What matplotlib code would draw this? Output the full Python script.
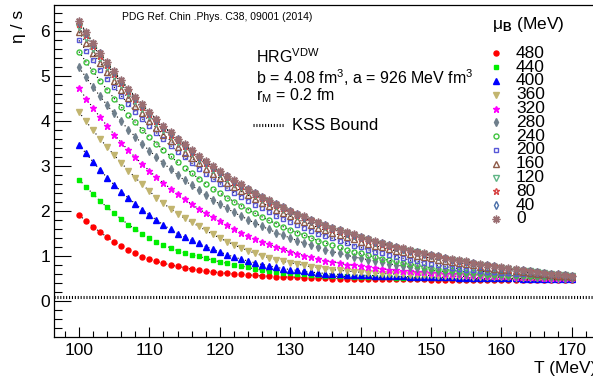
import matplotlib
matplotlib.use('Agg')
import matplotlib.pyplot as plt
from matplotlib.ticker import MultipleLocator
from matplotlib.lines import Line2D

plt.rcParams['font.family'] = ['Liberation Sans', 'DejaVu Sans']
plt.rcParams['mathtext.fontset'] = 'custom'
plt.rcParams['mathtext.rm'] = 'Liberation Sans'
plt.rcParams['mathtext.it'] = 'Liberation Sans:italic'
plt.rcParams['mathtext.bf'] = 'Liberation Sans:bold'

# temperature grid (MeV)
T = list(range(100, 171))

# eta/s for each mu_B (MeV)
eta_480 = [1.91, 1.78, 1.65, 1.53, 1.42, 1.32, 1.22, 1.13, 1.06, 0.98,
           0.93, 0.88, 0.84, 0.80, 0.77, 0.74, 0.71, 0.69, 0.67, 0.65,
           0.63, 0.615, 0.60, 0.59, 0.58, 0.57, 0.56, 0.55, 0.54, 0.535,
           0.53, 0.525, 0.52, 0.515, 0.51, 0.505, 0.50, 0.50, 0.495, 0.495,
           0.49, 0.49, 0.49, 0.485, 0.485, 0.485, 0.48, 0.48, 0.48, 0.48,
           0.475, 0.475, 0.475, 0.475, 0.475, 0.47, 0.47, 0.47, 0.47, 0.47,
           0.47, 0.47, 0.47, 0.47, 0.47, 0.47, 0.47, 0.47, 0.47, 0.47,
           0.47]
eta_440 = [2.70, 2.53, 2.38, 2.22, 2.08, 1.95, 1.82, 1.70, 1.59, 1.49,
           1.40, 1.32, 1.25, 1.18, 1.12, 1.07, 1.03, 0.99, 0.95, 0.91,
           0.87, 0.84, 0.81, 0.78, 0.745, 0.715, 0.685, 0.665, 0.645, 0.63,
           0.615, 0.60, 0.59, 0.58, 0.57, 0.56, 0.555, 0.55, 0.545, 0.54,
           0.535, 0.53, 0.53, 0.525, 0.525, 0.52, 0.52, 0.515, 0.515, 0.51,
           0.51, 0.51, 0.505, 0.505, 0.50, 0.50, 0.50, 0.495, 0.495, 0.49,
           0.49, 0.49, 0.49, 0.485, 0.485, 0.485, 0.48, 0.48, 0.48, 0.48,
           0.48]
eta_400 = [3.47, 3.28, 3.09, 2.91, 2.74, 2.58, 2.43, 2.29, 2.16, 2.03,
           1.91, 1.80, 1.69, 1.59, 1.50, 1.42, 1.35, 1.28, 1.21, 1.15,
           1.09, 1.03, 0.98, 0.93, 0.89, 0.85, 0.81, 0.78, 0.75, 0.72,
           0.70, 0.68, 0.66, 0.64, 0.63, 0.61, 0.60, 0.59, 0.585, 0.58,
           0.575, 0.57, 0.565, 0.56, 0.555, 0.55, 0.545, 0.54, 0.535, 0.535,
           0.53, 0.53, 0.525, 0.525, 0.52, 0.52, 0.515, 0.515, 0.51, 0.51,
           0.51, 0.505, 0.505, 0.50, 0.50, 0.50, 0.495, 0.495, 0.49, 0.49,
           0.49]
eta_360 = [4.20, 3.99, 3.79, 3.60, 3.42, 3.24, 3.07, 2.90, 2.74, 2.59,
           2.44, 2.30, 2.17, 2.05, 1.94, 1.84, 1.75, 1.66, 1.57, 1.48,
           1.40, 1.32, 1.25, 1.18, 1.12, 1.06, 1.01, 0.96, 0.92, 0.88,
           0.85, 0.82, 0.79, 0.76, 0.74, 0.72, 0.70, 0.68, 0.67, 0.65,
           0.64, 0.63, 0.62, 0.61, 0.605, 0.60, 0.59, 0.585, 0.58, 0.575,
           0.57, 0.565, 0.56, 0.555, 0.55, 0.545, 0.54, 0.535, 0.535, 0.53,
           0.53, 0.525, 0.52, 0.515, 0.51, 0.51, 0.505, 0.50, 0.50, 0.495,
           0.495]
eta_320 = [4.73, 4.50, 4.29, 4.08, 3.89, 3.70, 3.52, 3.35, 3.19, 3.04,
           2.89, 2.75, 2.62, 2.50, 2.38, 2.26, 2.15, 2.05, 1.95, 1.86,
           1.77, 1.68, 1.60, 1.52, 1.45, 1.38, 1.32, 1.26, 1.20, 1.15,
           1.10, 1.05, 1.01, 0.97, 0.93, 0.90, 0.87, 0.84, 0.81, 0.79,
           0.77, 0.75, 0.73, 0.71, 0.70, 0.68, 0.67, 0.66, 0.65, 0.64,
           0.63, 0.62, 0.61, 0.60, 0.59, 0.58, 0.575, 0.57, 0.56, 0.555,
           0.55, 0.545, 0.54, 0.535, 0.53, 0.525, 0.52, 0.515, 0.51, 0.51,
           0.505]
eta_280 = [5.19, 4.97, 4.75, 4.55, 4.35, 4.17, 3.99, 3.81, 3.65, 3.49,
           3.34, 3.20, 3.06, 2.93, 2.80, 2.68, 2.57, 2.46, 2.35, 2.25,
           2.15, 2.06, 1.97, 1.89, 1.81, 1.73, 1.66, 1.59, 1.52, 1.46,
           1.40, 1.34, 1.29, 1.24, 1.19, 1.14, 1.10, 1.06, 1.02, 0.98,
           0.95, 0.92, 0.89, 0.86, 0.83, 0.80, 0.775, 0.75, 0.725, 0.70,
           0.68, 0.665, 0.65, 0.635, 0.62, 0.61, 0.60, 0.59, 0.585, 0.575,
           0.57, 0.565, 0.56, 0.55, 0.545, 0.54, 0.535, 0.53, 0.525, 0.52,
           0.515]
eta_240 = [5.54, 5.31, 5.10, 4.89, 4.69, 4.50, 4.31, 4.14, 3.97, 3.80,
           3.65, 3.50, 3.35, 3.22, 3.08, 2.96, 2.84, 2.72, 2.61, 2.50,
           2.40, 2.30, 2.21, 2.12, 2.03, 1.95, 1.87, 1.79, 1.72, 1.65,
           1.58, 1.52, 1.46, 1.40, 1.34, 1.29, 1.24, 1.19, 1.14, 1.10,
           1.06, 1.02, 0.98, 0.94, 0.91, 0.88, 0.85, 0.82, 0.79, 0.765,
           0.74, 0.72, 0.70, 0.68, 0.665, 0.65, 0.635, 0.625, 0.61, 0.60,
           0.59, 0.58, 0.575, 0.57, 0.56, 0.555, 0.55, 0.545, 0.54, 0.53,
           0.525]
eta_200 = [5.79, 5.56, 5.35, 5.14, 4.94, 4.75, 4.56, 4.38, 4.21, 4.05,
           3.89, 3.74, 3.59, 3.45, 3.32, 3.19, 3.06, 2.94, 2.83, 2.72,
           2.61, 2.51, 2.41, 2.32, 2.23, 2.14, 2.06, 1.98, 1.90, 1.83,
           1.76, 1.69, 1.62, 1.56, 1.50, 1.44, 1.39, 1.33, 1.28, 1.23,
           1.19, 1.14, 1.10, 1.06, 1.02, 0.98, 0.95, 0.91, 0.88, 0.85,
           0.82, 0.79, 0.77, 0.74, 0.72, 0.70, 0.68, 0.66, 0.65, 0.64,
           0.63, 0.62, 0.61, 0.60, 0.59, 0.58, 0.57, 0.56, 0.55, 0.54,
           0.535]
eta_160 = [5.97, 5.74, 5.50, 5.29, 5.08, 4.88, 4.69, 4.51, 4.33, 4.17,
           4.00, 3.85, 3.70, 3.56, 3.43, 3.30, 3.18, 3.06, 2.94, 2.83,
           2.73, 2.63, 2.53, 2.44, 2.35, 2.27, 2.18, 2.11, 2.03, 1.96,
           1.88, 1.81, 1.76, 1.69, 1.63, 1.57, 1.51, 1.47, 1.42, 1.37,
           1.32, 1.27, 1.23, 1.19, 1.15, 1.11, 1.08, 1.04, 1.01, 0.98,
           0.95, 0.92, 0.89, 0.86, 0.84, 0.82, 0.79, 0.76, 0.74, 0.72,
           0.70, 0.68, 0.66, 0.65, 0.63, 0.61, 0.60, 0.58, 0.56, 0.555,
           0.54]
eta_120 = [6.08, 5.85, 5.61, 5.40, 5.19, 4.99, 4.80, 4.62, 4.44, 4.27,
           4.11, 3.95, 3.80, 3.67, 3.53, 3.40, 3.28, 3.16, 3.04, 2.92,
           2.83, 2.72, 2.62, 2.53, 2.44, 2.36, 2.27, 2.19, 2.11, 2.04,
           1.97, 1.90, 1.84, 1.77, 1.71, 1.65, 1.59, 1.55, 1.50, 1.45,
           1.40, 1.35, 1.30, 1.26, 1.22, 1.18, 1.14, 1.11, 1.08, 1.04,
           1.01, 0.98, 0.94, 0.91, 0.89, 0.86, 0.83, 0.80, 0.78, 0.76,
           0.73, 0.71, 0.69, 0.67, 0.66, 0.64, 0.62, 0.60, 0.58, 0.57,
           0.55]
eta_80 = [6.15, 5.91, 5.67, 5.45, 5.25, 5.04, 4.85, 4.66, 4.49, 4.32,
          4.15, 3.99, 3.84, 3.70, 3.57, 3.44, 3.31, 3.19, 3.07, 2.95,
          2.86, 2.75, 2.65, 2.56, 2.46, 2.38, 2.29, 2.21, 2.13, 2.06,
          1.99, 1.92, 1.86, 1.79, 1.73, 1.67, 1.61, 1.56, 1.51, 1.46,
          1.41, 1.36, 1.31, 1.27, 1.23, 1.20, 1.16, 1.12, 1.09, 1.05,
          1.02, 0.99, 0.95, 0.92, 0.90, 0.87, 0.84, 0.81, 0.79, 0.77,
          0.74, 0.72, 0.70, 0.68, 0.66, 0.64, 0.62, 0.60, 0.58, 0.57,
          0.55]
eta_40 = [6.20, 5.96, 5.72, 5.50, 5.29, 5.08, 4.89, 4.70, 4.52, 4.35,
          4.18, 4.02, 3.87, 3.73, 3.59, 3.46, 3.33, 3.21, 3.09, 2.98,
          2.87, 2.77, 2.67, 2.57, 2.48, 2.39, 2.31, 2.23, 2.15, 2.08,
          2.00, 1.93, 1.87, 1.80, 1.74, 1.68, 1.62, 1.57, 1.52, 1.47,
          1.42, 1.37, 1.32, 1.28, 1.24, 1.20, 1.16, 1.12, 1.09, 1.05,
          1.02, 0.99, 0.95, 0.92, 0.90, 0.87, 0.84, 0.81, 0.79, 0.77,
          0.74, 0.72, 0.70, 0.68, 0.66, 0.64, 0.62, 0.60, 0.59, 0.57,
          0.555]
eta_0 = [6.22, 5.98, 5.74, 5.52, 5.31, 5.10, 4.91, 4.72, 4.54, 4.37,
         4.20, 4.04, 3.89, 3.75, 3.61, 3.48, 3.35, 3.23, 3.11, 2.99,
         2.89, 2.78, 2.68, 2.59, 2.49, 2.41, 2.32, 2.24, 2.16, 2.09,
         2.01, 1.94, 1.88, 1.81, 1.75, 1.69, 1.63, 1.58, 1.53, 1.48,
         1.43, 1.38, 1.33, 1.29, 1.25, 1.21, 1.17, 1.13, 1.10, 1.06,
         1.03, 1.00, 0.96, 0.93, 0.91, 0.88, 0.85, 0.82, 0.80, 0.78,
         0.75, 0.73, 0.71, 0.69, 0.67, 0.65, 0.63, 0.61, 0.59, 0.58,
         0.56]

mu_labels = ['480', '440', '400', '360', '320', '280', '240',
             '200', '160', '120', '80', '40', '0']
kss = 0.08  # 1/(4 pi)

series = [eta_480, eta_440, eta_400, eta_360, eta_320, eta_280, eta_240,
          eta_200, eta_160, eta_120, eta_80, eta_40, eta_0]
colors = ['#ff0000', '#00ee00', '#0000ff', '#c2b56f', '#ff00ff', '#6f7f8c',
          '#3fc43f', '#5858d8', '#8e5a48', '#5fb585', '#d84848', '#4a6ea8',
          '#9a6e72']
markers = ['o', 's', '^', 'v', '*', 'd', 'o', 's', '^', 'v', '*', 'd', (8, 2, 0)]
filled = [True] * 6 + [False] * 7
sizes = [3.6, 3.4, 3.8, 3.8, 4.8, 4.0, 3.6, 3.4, 4.0, 4.0, 5.0, 4.2, 5.6]

fig = plt.figure(figsize=(5.93, 3.79), dpi=100)
ax = fig.add_axes([54.3 / 593, 1 - 336.7 / 379, (600 - 54.3) / 593, (336.7 - 5.3) / 379])
ax.set_xlim(96.49, 174.0)
ax.set_ylim(-0.793, 6.571)
ax.spines['right'].set_visible(False)
for s in ['left', 'bottom', 'top']:
    ax.spines[s].set_linewidth(0.9)

ax.axhline(kss, color='k', lw=2.2, ls=(0, (0.35, 0.6)), zorder=1)

for y, c, m, full, ms in zip(series, colors, markers, filled, sizes):
    ax.plot(T, y, color='k', lw=0.8, ls=(0, (1, 2.5)), zorder=2)
    ax.plot(T, y, ls='none', marker=m, ms=ms, mfc=c if full else 'none',
            mec=c, mew=1.0, zorder=3)

ax.xaxis.set_major_locator(MultipleLocator(10))
ax.xaxis.set_minor_locator(MultipleLocator(2))
ax.yaxis.set_major_locator(MultipleLocator(1))
ax.yaxis.set_minor_locator(MultipleLocator(0.2))
ax.tick_params(axis='x', which='major', direction='in', length=7.5, width=0.8,
               labelsize=12.5, pad=4.5, top=False)
ax.tick_params(axis='x', which='minor', direction='in', length=4, width=0.8, top=False)
ax.tick_params(axis='y', which='major', direction='in', length=12, width=0.8,
               labelsize=12.5, pad=3, right=False)
ax.tick_params(axis='y', which='minor', direction='in', length=6, width=0.8, right=False)

fig.text(18 / 593, 1 - 10 / 379, 'η / s', rotation=90, ha='center', va='top', fontsize=12.5)
# the reference cuts this label at the right edge
fig.text(534 / 593, 1 - 368 / 379, 'T (MeV)', ha='left', va='center', fontsize=12.5)

fig.text(122 / 593, 1 - 17 / 379, 'PDG Ref. Chin .Phys. C38, 09001 (2014)',
         ha='left', va='center', fontsize=7.5)
fig.text(256 / 593, 1 - 57 / 379, r'HRG$^{\rm VDW}$', ha='left', va='center', fontsize=11.5)
fig.text(256 / 593, 1 - 78 / 379, r'b = 4.08 fm$^{3}$, a = 926 MeV fm$^{3}$',
         ha='left', va='center', fontsize=11.5)
fig.text(256 / 593, 1 - 96 / 379, r'r$_{\rm M}$ = 0.2 fm', ha='left', va='center', fontsize=11.5)
fig.add_artist(Line2D([253 / 593, 284 / 593], [1 - 125 / 379, 1 - 125 / 379],
                      transform=fig.transFigure, color='k', lw=2.2, ls=(0, (0.35, 0.6))))
fig.text(292 / 593, 1 - 125 / 379, 'KSS Bound', ha='left', va='center', fontsize=12)

# legend drawn by hand
fig.text(492 / 593, 1 - 25 / 379, r'μ$_{\mathbf{B}}$ (MeV)', ha='left', va='center', fontsize=12.5)
for i in range(len(mu_labels)):
    yy = 1 - (53.3 + 13.8 * i) / 379
    full = filled[i]
    fig.add_artist(Line2D([496 / 593], [yy], transform=fig.transFigure, ls='none',
                          marker=markers[i], ms=sizes[i], mfc=colors[i] if full else 'none',
                          mec=colors[i], mew=1.0))
    fig.text(516 / 593, yy, mu_labels[i], ha='left', va='center', fontsize=12.5)

fig.savefig('out.png', dpi=100)
